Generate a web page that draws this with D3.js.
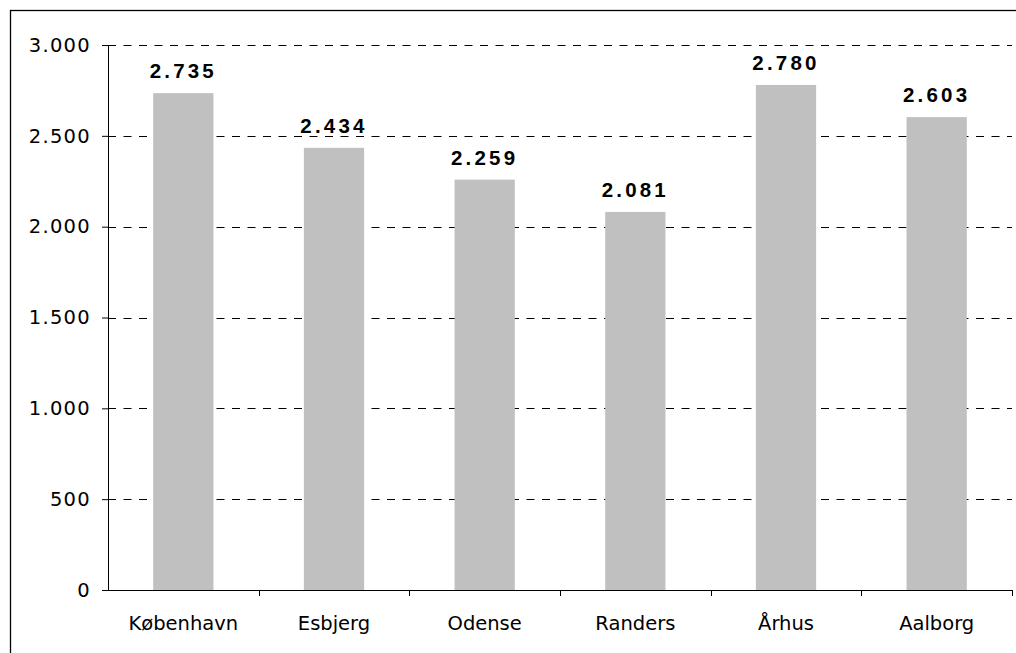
<!DOCTYPE html>
<html>
<head>
<meta charset="utf-8">
<script src="https://cdn.jsdelivr.net/npm/d3@7"></script>
<style>
  html, body { margin: 0; padding: 0; background: #fff; }
  svg { display: block; }
  .axis text { font-family: "DejaVu Sans", Verdana, sans-serif; font-size: 19.5px; fill: #000; }
  .y-axis text { letter-spacing: 1.3px; }
  .value-label { font-family: "Liberation Sans", Arial, sans-serif; font-weight: bold; font-size: 20.5px; letter-spacing: 3.2px; fill: #000; }
</style>
</head>
<body>
<div id="chart"></div>
<script>
const cities = ["København", "Esbjerg", "Odense", "Randers", "Århus", "Aalborg"];
const values = [2735, 2434, 2259, 2081, 2780, 2603];
const yTicks = [0, 500, 1000, 1500, 2000, 2500, 3000];

const W = 1016, H = 653;
const margin = { top: 45, right: 4, bottom: 63, left: 108 };
const width = W - margin.left - margin.right;
const height = H - margin.top - margin.bottom;

const svg = d3.select("#chart").append("svg")
  .attr("width", W)
  .attr("height", H);

// outer frame
svg.append("rect")
  .attr("x", 10.5).attr("y", 10.5)
  .attr("width", W).attr("height", H)
  .attr("fill", "none")
  .attr("stroke", "#000")
  .attr("stroke-width", 1.3);

const g = svg.append("g").attr("transform", `translate(${margin.left},${margin.top})`);

const x = d3.scaleBand().domain(cities).range([0, width]).paddingInner(0.6).paddingOuter(0.3);
const y = d3.scaleLinear().domain([0, 3000]).range([height, 0]);

// dashed grid
g.append("g")
  .selectAll("line")
  .data(yTicks.filter(d => d > 0))
  .enter().append("line")
  .attr("x1", 0).attr("x2", width)
  .attr("y1", d => Math.round(y(d)) + 0.5).attr("y2", d => Math.round(y(d)) + 0.5)
  .attr("stroke", "#000")
  .attr("stroke-width", 1)
  .attr("stroke-dasharray", "8,7.5");

// bars
g.selectAll(".bar")
  .data(values)
  .enter().append("rect")
  .attr("class", "bar")
  .attr("x", (d, i) => x(cities[i]))
  .attr("y", d => y(d))
  .attr("width", x.bandwidth())
  .attr("height", d => height - y(d))
  .attr("fill", "#c0c0c0");

// value labels
g.selectAll(".value-label")
  .data(values)
  .enter().append("text")
  .attr("class", "value-label")
  .attr("x", (d, i) => x(cities[i]) + x.bandwidth() / 2)
  .attr("y", d => y(d) - 15)
  .attr("text-anchor", "middle")
  .text(d => d3.format(",")(d).replace(/,/g, "."));

// y axis
const yAxis = d3.axisLeft(y).tickValues(yTicks).tickSize(6).tickPadding(11)
  .tickFormat(d => d3.format(",")(d).replace(/,/g, "."));
const ya = g.append("g").attr("class", "axis y-axis").call(yAxis);
ya.select(".domain").attr("d", `M0.5,0V${height}`).attr("stroke", "#000");
ya.selectAll(".tick line").attr("stroke", "#000");

// x axis with ticks between categories
const xa = g.append("g").attr("class", "axis").attr("transform", `translate(0,${height})`);
xa.append("line")
  .attr("x1", 0).attr("x2", width)
  .attr("y1", 0.5).attr("y2", 0.5)
  .attr("stroke", "#000");
const step = width / cities.length;
xa.selectAll(".sep")
  .data(d3.range(1, cities.length + 1))
  .enter().append("line")
  .attr("x1", d => Math.round(d * step) + 0.5).attr("x2", d => Math.round(d * step) + 0.5)
  .attr("y1", 0).attr("y2", 6)
  .attr("stroke", "#000");
xa.selectAll(".cat")
  .data(cities)
  .enter().append("text")
  .attr("x", d => x(d) + x.bandwidth() / 2)
  .attr("y", 40)
  .attr("text-anchor", "middle")
  .text(d => d);
</script>
</body>
</html>
